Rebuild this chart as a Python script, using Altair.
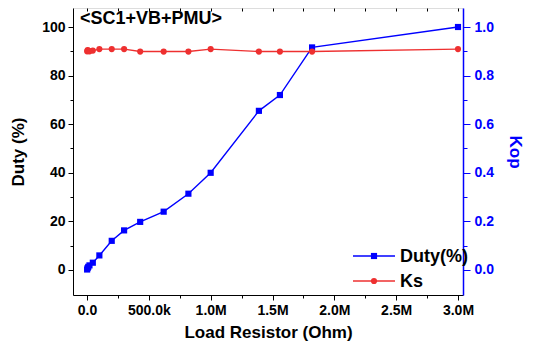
import altair as alt
import pandas as pd

# ---------------- data ----------------
load_r = [1e3, 5e3, 10e3, 20e3, 47e3, 100e3, 200e3, 300e3, 430e3, 620e3,
          820e3, 1.0e6, 1.39e6, 1.56e6, 1.82e6, 3.0e6]
duty = [0.2, 0.8, 1.3, 1.9, 3.0, 6.0, 12.0, 16.3, 19.8, 24.0,
        31.4, 40.0, 65.5, 72.0, 91.6, 100.0]
ks = [90.0, 90.5, 90.3, 90.0, 90.3, 90.9, 90.9, 90.9, 89.9, 89.9,
      89.9, 90.9, 89.9, 89.9, 89.9, 90.9]
series_names = ["Duty(%)", "Ks"]
x_ticks = [i * 250000 for i in range(13)]
y_ticks = list(range(0, 101, 10))
kop_ticks = [i / 10 for i in range(11)]

FONT = "Liberation Sans"
BLUE = "#0000ff"
RED = "#ee3030"

XMIN, XMAX = -113208, 3040431
YMIN, YMAX = -10.29, 107.82
W, H = 390, 287

n = len(load_r)
df = pd.DataFrame({
    "R": load_r * 2,
    "value": duty + ks,
    "series": [series_names[0]] * n + [series_names[1]] * n,
})
kop_df = pd.DataFrame({"kop": kop_ticks})
dummy = pd.DataFrame({"a": [0]})

xscale = alt.Scale(domain=[XMIN, XMAX], nice=False, zero=False)
yscale = alt.Scale(domain=[YMIN, YMAX], nice=False, zero=False)
cscale = alt.Scale(domain=series_names, range=[BLUE, RED])
sscale = alt.Scale(domain=series_names, range=["square", "circle"])

x_label_expr = ("datum.value % 500000 != 0 ? '' : (datum.value == 0 ? '0.0' : "
                "(datum.value < 1000000 ? format(datum.value/1000, '.1f') + 'k' : "
                "format(datum.value/1000000, '.1f') + 'M'))")

xaxis = alt.Axis(orient="bottom", values=x_ticks, labelExpr=x_label_expr,
                 tickSize={"condition": {"test": "datum.value % 500000 === 0", "value": 5}, "value": 3},
                 title="Load Resistor (Ohm)", grid=False, labelFlush=False,
                 labelFont=FONT, labelFontSize=14, labelFontWeight="bold", labelColor="black",
                 labelPadding=3, titleFont=FONT, titleFontSize=17, titleFontWeight="bold",
                 titleColor="black", titlePadding=7, domainColor="black", tickColor="black")

yaxis = alt.Axis(orient="left", values=y_ticks,
                 labelExpr="datum.value % 20 == 0 ? datum.label : ''",
                 tickSize={"condition": {"test": "datum.value % 20 === 0", "value": 5}, "value": 3},
                 title="Duty (%)", grid=False, labelFont=FONT, labelFontSize=14,
                 labelFontWeight="bold", labelColor="black", labelPadding=3,
                 titleFont=FONT, titleFontSize=17, titleFontWeight="bold", titleColor="black",
                 titlePadding=14, domainColor="black", tickColor="black")

line = alt.Chart(df).mark_line(strokeWidth=1.4).encode(
    x=alt.X("R:Q", scale=xscale, axis=xaxis),
    y=alt.Y("value:Q", scale=yscale, axis=yaxis),
    color=alt.Color("series:N", scale=cscale, legend=None),
    detail="series:N",
)
points = alt.Chart(df).mark_point(filled=True, size=38, opacity=1).encode(
    x=alt.X("R:Q", scale=xscale, axis=xaxis),
    y=alt.Y("value:Q", scale=yscale, axis=yaxis),
    color=alt.Color("series:N", scale=cscale, legend=None),
    shape=alt.Shape("series:N", scale=sscale, legend=None),
)
main = alt.layer(line, points)

top_axis = alt.Chart(df).mark_point(opacity=0).encode(
    x=alt.X("R:Q", scale=xscale,
            axis=alt.Axis(orient="top", values=x_ticks, labels=False, domain=False,
                          tickSize=3, offset=-3, title=None, grid=False, tickColor="black")),
)

kop_axis = alt.Chart(kop_df).mark_point(opacity=0).encode(
    y=alt.Y("kop:Q", scale=alt.Scale(domain=[YMIN / 100, YMAX / 100], nice=False, zero=False),
            axis=alt.Axis(orient="right", values=kop_ticks,
                          labelExpr="round(datum.value*10) % 2 == 0 ? format(datum.value, '.1f') : ''",
                          tickSize={"condition": {"test": "round(datum.value*10) % 2 === 0", "value": 7}, "value": 4},
                          title="Kop", grid=False, labelFont=FONT, labelFontSize=14,
                          labelFontWeight="bold", labelColor=BLUE, labelPadding=4,
                          titleFont=FONT, titleFontSize=17, titleFontWeight="bold",
                          titleColor=BLUE, titlePadding=12, domainColor=BLUE, domainWidth=1.5,
                          tickColor=BLUE)),
)

title_text = alt.Chart(dummy).mark_text(
    text="<SC1+VB+PMU>", align="left", baseline="middle", font=FONT,
    fontSize=18, fontWeight="bold", color="black",
).encode(x=alt.value(7), y=alt.value(11))

legend_layers = []
for name, color, shape, ly in [(series_names[0], BLUE, "square", 248),
                               (series_names[1], RED, "circle", 273)]:
    legend_layers.append(alt.Chart(dummy).mark_rule(color=color, strokeWidth=1.4).encode(
        x=alt.value(280), x2=alt.value(322), y=alt.value(ly)))
    legend_layers.append(alt.Chart(dummy).mark_point(
        color=color, filled=True, shape=shape, size=38, opacity=1).encode(
        x=alt.value(301), y=alt.value(ly)))
    legend_layers.append(alt.Chart(dummy).mark_text(
        text=name, align="left", baseline="middle", font=FONT, fontSize=18,
        fontWeight="bold", color="black").encode(x=alt.value(327), y=alt.value(ly + 1)))

chart = alt.layer(main, top_axis, kop_axis, title_text, *legend_layers).resolve_scale(
    y="independent"
).properties(
    width=W, height=H,
    autosize=alt.AutoSizeParams(type="none"),
    padding={"left": 65, "top": 0, "right": 62, "bottom": 49},
).configure_view(stroke="black", strokeWidth=1).configure(background="white")

chart.save("out.html", embed_options={"renderer": "svg", "actions": False})
